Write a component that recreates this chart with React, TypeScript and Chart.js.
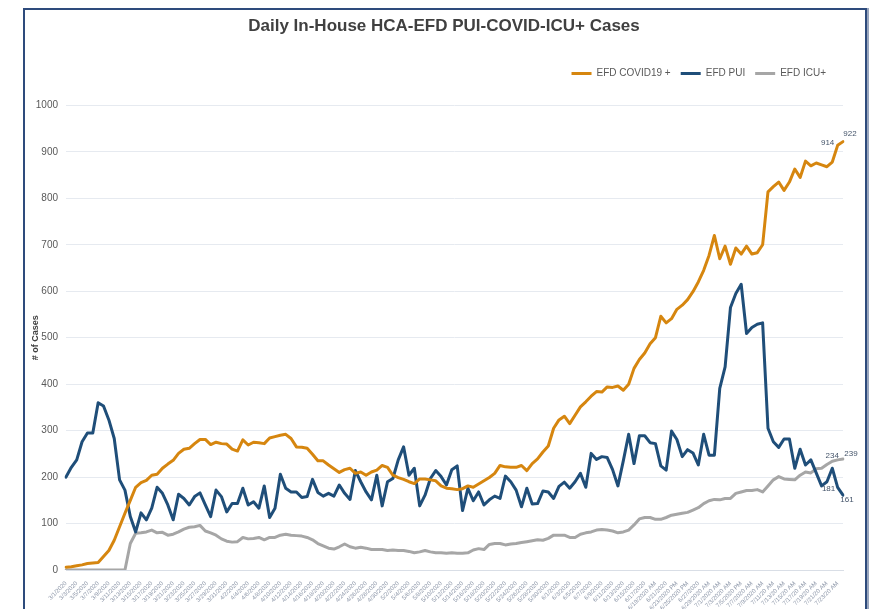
import React, { useEffect, useRef } from "react";
import { Chart, registerables } from "chart.js";

Chart.register(...registerables);

const categories = [
  "3/1/2020","3/2/2020","3/3/2020","3/4/2020","3/5/2020","3/6/2020","3/7/2020","3/8/2020","3/9/2020","3/10/2020",
  "3/11/2020","3/12/2020","3/13/2020","3/14/2020","3/15/2020","3/16/2020","3/17/2020","3/18/2020","3/19/2020","3/20/2020",
  "3/21/2020","3/22/2020","3/23/2020","3/24/2020","3/25/2020","3/26/2020","3/27/2020","3/28/2020","3/29/2020","3/30/2020",
  "3/31/2020","4/1/2020","4/2/2020","4/3/2020","4/4/2020","4/5/2020","4/6/2020","4/7/2020","4/8/2020","4/9/2020",
  "4/10/2020","4/11/2020","4/12/2020","4/13/2020","4/14/2020","4/15/2020","4/16/2020","4/17/2020","4/18/2020","4/19/2020",
  "4/20/2020","4/21/2020","4/22/2020","4/23/2020","4/24/2020","4/25/2020","4/26/2020","4/27/2020","4/28/2020","4/29/2020",
  "4/30/2020","5/1/2020","5/2/2020","5/3/2020","5/4/2020","5/5/2020","5/6/2020","5/7/2020","5/8/2020","5/9/2020",
  "5/10/2020","5/11/2020","5/12/2020","5/13/2020","5/14/2020","5/15/2020","5/16/2020","5/17/2020","5/18/2020","5/19/2020",
  "5/20/2020","5/21/2020","5/22/2020","5/23/2020","5/24/2020","5/25/2020","5/26/2020","5/27/2020","5/28/2020","5/29/2020",
  "5/30/2020","5/31/2020","6/1/2020","6/2/2020","6/3/2020","6/4/2020","6/5/2020","6/6/2020","6/7/2020","6/8/2020",
  "6/9/2020","6/10/2020","6/11/2020","6/12/2020","6/13/2020","6/14/2020","6/15/2020","6/16/2020","6/17/2020","6/18/2020",
  "6/19/2020 AM","6/20/2020 AM","6/21/2020","6/22/2020 PM","6/23/2020 PM","6/24/2020 PM","6/25/2020 PM","6/26/2020 PM","6/27/2020","6/28/2020 AM",
  "6/29/2020 AM","6/30/2020 AM","7/1/2020 AM","7/2/2020 AM","7/3/2020 AM","7/4/20 AM","7/5/2020 PM","7/6/2020 PM","7/7/2020 AM","7/8/2020 AM",
  "7/9/2020 AM","7/10/20 AM","7/11/20 AM","7/12/20 AM","7/13/20 AM","7/14/20 AM","7/15/20 AM","7/16/20 AM","7/17/20 AM","7/18/20 AM",
  "7/19/20 AM","7/20/20 AM","7/21/20 AM","7/22/20 AM","7/23/20 AM","7/24/20 AM"
];

const covidPositive = [
  6,7,9,11,14,15,16,29,42,64,
  93,122,150,178,188,193,204,206,219,228,
  236,251,260,262,272,281,281,270,275,272,
  271,260,256,280,269,275,274,272,284,287,
  290,292,283,265,264,262,249,235,235,226,
  218,210,216,219,208,211,204,211,215,225,
  221,204,199,195,190,186,196,196,194,192,
  181,176,175,173,175,181,178,185,192,199,
  208,225,222,221,221,225,214,229,239,254,
  267,305,323,331,315,333,351,362,374,384,
  383,394,393,396,387,400,434,453,467,487,
  500,546,532,541,561,570,582,599,620,645,
  677,720,670,697,658,693,680,697,680,683,
  700,814,825,835,817,835,863,845,880,870,
  876,872,868,878,914,922
];

const pui = [
  200,221,237,276,295,295,360,353,323,283,
  194,172,115,82,123,108,133,178,165,140,
  108,163,154,140,158,166,140,115,172,158,
  125,143,143,176,140,147,133,181,113,133,
  206,176,168,168,156,158,195,167,159,165,
  159,183,165,152,214,190,168,151,204,138,
  190,197,237,265,204,219,138,161,197,214,
  201,183,216,224,128,176,149,168,140,151,
  159,154,202,190,172,136,176,142,143,170,
  168,154,180,189,176,190,208,178,251,238,
  244,242,216,181,235,292,229,289,289,274,
  272,224,215,299,281,244,259,252,226,292,
  247,247,391,437,565,595,615,509,522,529,
  532,305,276,264,282,282,219,260,226,237,
  209,181,190,219,178,161
];

const icu = [
  0,0,0,0,0,0,0,0,0,0,
  0,0,57,79,80,82,86,80,81,75,
  77,82,88,92,93,96,84,80,75,67,
  62,60,61,70,67,68,70,65,70,70,
  75,77,75,74,73,70,65,57,52,47,
  45,50,56,50,47,49,47,44,44,44,
  42,43,42,42,40,37,39,42,39,37,
  37,36,37,36,36,37,43,46,44,55,
  57,57,54,56,57,59,61,63,65,64,
  68,75,75,75,70,70,77,80,82,86,
  87,86,84,80,82,86,97,110,113,113,
  109,109,113,118,120,122,124,129,134,143,
  149,152,151,154,154,165,168,171,171,173,
  168,181,194,201,196,195,194,204,211,209,
  218,219,227,234,237,239
];

const seriesNames = ["EFD COVID19 +", "EFD PUI", "EFD ICU+"];
const yTicksMax = 1000;
const yTickStep = 100;

// which points carry a value label (series index, point index) and label offsets
const valueLabels = [
  { series: 0, index: 144, dx: -10, dy: -3 },
  { series: 0, index: 145, dx: 7, dy: -8 },
  { series: 1, index: 141, dx: 7, dy: 3 },
  { series: 1, index: 145, dx: 4, dy: 5 },
  { series: 2, index: 143, dx: 0, dy: -5 },
  { series: 2, index: 145, dx: 8, dy: -5 },
];

const FONT = '"Liberation Sans", Arial, sans-serif';
const ORANGE = "#D6860F";
const BLUE = "#1F4E79";
const GRAY = "#A6A6A6";

const layoutTweaks = {
  id: "layoutTweaks",
  beforeLayout(chart: any) {
    const lg = chart.legend;
    if (lg && !lg._spacerPatched) {
      lg._spacerPatched = true;
      const origFit = lg.fit;
      lg.fit = function () {
        origFit.call(this);
        this.height += 17;
      };
    }
  },
  afterLayout(chart: any) {
    const lg = chart.legend;
    if (lg) lg.right -= 7;
    const tb = chart.titleBlock;
    if (tb) tb.left += 17;
  },
};

const pointValueLabels = {
  id: "pointValueLabels",
  afterDatasetsDraw(chart: any) {
    const ctx = chart.ctx;
    ctx.save();
    ctx.font = `8px ${FONT}`;
    ctx.fillStyle = "#44546A";
    ctx.textAlign = "center";
    ctx.textBaseline = "middle";
    for (const l of valueLabels) {
      const el = chart.getDatasetMeta(l.series).data[l.index];
      const v = chart.data.datasets[l.series].data[l.index];
      if (el) ctx.fillText(String(v), el.x + l.dx, el.y + l.dy);
    }
    ctx.restore();
  },
};

export default function App() {
  const ref = useRef<HTMLCanvasElement | null>(null);

  useEffect(() => {
    if (!ref.current) return;
    const mk = (label: string, data: number[], color: string) => ({
      label,
      data,
      borderColor: color,
      backgroundColor: color,
      borderWidth: 3,
      pointRadius: 0,
      tension: 0,
      borderJoinStyle: "round" as const,
      borderCapStyle: "round" as const,
    });
    const chart = new Chart(ref.current, {
      type: "line",
      data: {
        labels: categories,
        datasets: [
          mk(seriesNames[0], covidPositive, ORANGE),
          mk(seriesNames[1], pui, BLUE),
          mk(seriesNames[2], icu, GRAY),
        ],
      },
      options: {
        animation: false,
        responsive: false,
        maintainAspectRatio: false,
        layout: { padding: { left: 28, right: 29, top: 10, bottom: 0 } },
        plugins: {
          title: {
            display: true,
            text: "Daily In-House HCA-EFD PUI-COVID-ICU+ Cases",
            font: { family: FONT, size: 17, weight: "bold" },
            color: "#404040",
            padding: { top: 6, bottom: 22 },
          },
          legend: {
            position: "top",
            align: "end",
            labels: {
              boxWidth: 20,
              boxHeight: 3,
              font: { family: FONT, size: 10 },
              color: "#595959",
              padding: 10,
              generateLabels: (c: any) =>
                (Chart.defaults.plugins.legend.labels.generateLabels as any)(c).map((it: any) => ({
                  ...it,
                  lineWidth: 0,
                })),
            },
          },
          tooltip: { enabled: false },
        },
        scales: {
          x: {
            offset: false,
            grid: { display: false },
            border: { display: true, color: "#D9DEE6", width: 1 },
            ticks: {
              autoSkip: false,
              maxRotation: 45,
              minRotation: 45,
              font: { family: FONT, size: 6 },
              color: "#8C96A8",
              padding: 2,
              callback: (_v: any, i: number) => (i % 2 === 0 ? categories[i] : ""),
            },
            afterFit: (s: any) => {
              s.height = 39;
            },
          },
          y: {
            min: 0,
            max: yTicksMax,
            ticks: {
              stepSize: yTickStep,
              font: { family: FONT, size: 10 },
              color: "#595959",
              padding: 8,
              callback: (v: any) => String(v),
            },
            grid: { color: "#E6EAF0", drawTicks: false },
            border: { display: false },
            title: {
              display: true,
              text: "# of Cases",
              font: { family: FONT, size: 9, weight: "bold" },
              color: "#404040",
              padding: { top: 2, bottom: 0 },
            },
            afterFit: (s: any) => {
              s.width = 38;
            },
          },
        },
      },
      plugins: [layoutTweaks, pointValueLabels],
    } as any);
    return () => chart.destroy();
  }, []);

  return (
    <div
      style={{
        position: "absolute",
        left: 0,
        top: 0,
        width: 872,
        height: 609,
        background: "#fff",
        overflow: "hidden",
      }}
    >
      <div
        style={{
          position: "absolute",
          left: 23,
          top: 8,
          width: 840,
          height: 700,
          border: "2px solid #2E4B7C",
          boxShadow: "2px 0 0 #9AA6BD",
        }}
      />
      <canvas ref={ref} width={872} height={609} style={{ position: "absolute", left: 0, top: 0 }} />
    </div>
  );
}
